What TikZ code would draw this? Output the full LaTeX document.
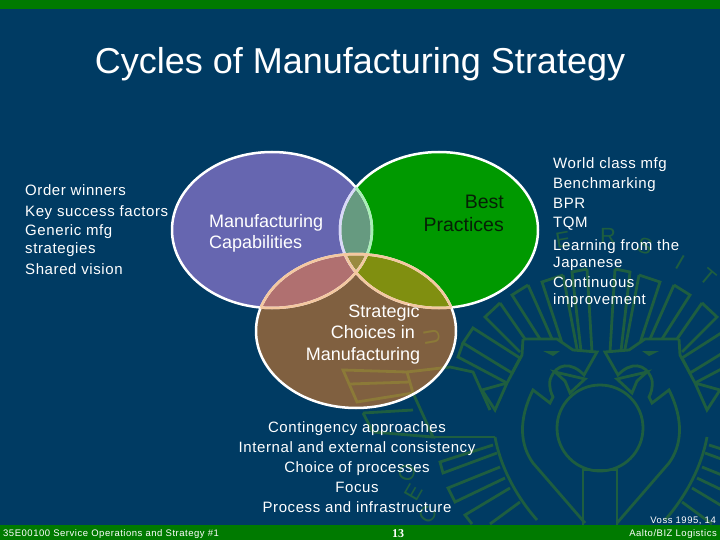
\documentclass[tikz,border=0pt]{standalone}
\usepackage{fontspec}
\setmainfont{Liberation Sans}
\newfontfamily\spaced{Liberation Sans}[LetterSpace=4]
\newfontfamily\spacedb{Liberation Sans}[LetterSpace=5.5]
\newfontfamily\serifb{Liberation Serif}
\definecolor{bgc}{HTML}{003B63}
\definecolor{barc}{HTML}{007A00}
\definecolor{wmc}{HTML}{1E5E40}
\definecolor{wmy}{HTML}{8C7A38}
\definecolor{purp}{HTML}{6666B0}
\definecolor{gree}{HTML}{009900}
\definecolor{brow}{HTML}{806040}
\definecolor{pg}{HTML}{669A80}
\definecolor{pb}{HTML}{B07070}
\definecolor{gb}{HTML}{808F10}
\definecolor{pgb}{HTML}{9A8A40}
\definecolor{lav}{HTML}{D8D8F8}
\definecolor{peach}{HTML}{F4C8A0}
\definecolor{darktx}{HTML}{062006}
\def\EP{(272,230) ellipse [x radius=100pt,y radius=78pt]}
\def\EG{(439,230) ellipse [x radius=99pt,y radius=78pt]}
\def\EB{(356,331) ellipse [x radius=100pt,y radius=77pt]}
\newcommand{\halfmark}{%
  % head and body
  \draw (523,339) -- (557,339) -- (573,350) -- (597,352) -- (584,375)
    .. controls (572,362) and (556,362) .. (550,380)
    .. controls (549,388) and (551,393) .. (553,397)
    -- (550,403) -- (533,390)
    .. controls (518,420) and (520,445) .. (533,463)
    -- (585,523);
  \draw (555,372) -- (585,379) -- (570,393) -- (565,381) -- cycle;
  \fill (543,351) -- (560,351) -- (553,356) -- cycle;
  \draw (523,339) -- (522,355) -- (507,383) -- (495,410) -- (482,390) -- (507,383);
  % upper rays
  \draw (473,328) -- (463,343) -- (512,373) -- (520,358) -- cycle;
  \draw (463,343) -- (458,357) -- (507,383);
  \draw (500,303) -- (485,317) -- (520,352) (500,303) -- (525,339);
  \draw (528,285) -- (512,295) -- (540,339) (528,285) -- (552,339);
  \draw (563,275) -- (542,282) -- (562,343) (563,275) -- (577,349);
  \draw (587,269) -- (572,272) -- (581,351) (587,269) -- (592,352);
  % lower rays
  \draw (495,437) .. controls (500,465) and (515,495) .. (537,520);
  \draw (493,445) -- (440,462) -- (443,473) -- (497,453);
  \draw (500,467) -- (448,488) -- (455,502) -- (505,478);
  \draw (510,488) -- (465,515) -- (472,524);
  \draw (520,502) -- (490,524);
}
\tikzset{
  wmline/.style={line width=2.8pt,line join=miter},
  wmletter/.style={font=\fontsize{22}{22}\selectfont,text=#1,inner sep=0pt},
  lab/.style={text=white,font=\spaced\fontsize{#1}{#1}\selectfont,inner sep=0pt,anchor=base west},
  labc/.style={text=white,font=\spaced\fontsize{#1}{#1}\selectfont,inner sep=0pt,anchor=base},
  big/.style={text=white,font=\fontsize{#1}{#1}\selectfont,inner sep=0pt,anchor=base},
  foot/.style={text=white,font=\spacedb\fontsize{9.5}{9.5}\selectfont,inner sep=0pt,anchor=base #1},
  ringline/.style={draw=white,line width=2.5pt}
}
\newcommand{\wholemark}[1]{%
  \begin{scope}[wmline,draw=#1,fill=#1]
    \halfmark
    \begin{scope}[xshift=1202pt,xscale=-1] \halfmark \end{scope}
    \draw (600,428) circle [radius=43pt];
    \draw (583,525) -- (583,470) -- (617,470) -- (617,525);
    % left wing
    \draw (343,370) -- (357,402) -- (413,393) -- (407,372) -- cycle;
    \draw (350,384) -- (410,382);
    \draw (407,372) -- (450,367) -- (473,372) -- (490,410);
    \draw (363,413) -- (373,432) -- (433,437) -- (413,393);
    \draw (363,413) -- (413,410);
    \draw (433,437) -- (495,437);
  \end{scope}
}
\begin{document}
\begin{tikzpicture}[x=1pt,y=-1pt]
\useasboundingbox (0,0) rectangle (720,540);
\fill[bgc] (0,0) rectangle (720,540);
\fill[barc] (0,0) rectangle (720,9);
\wholemark{wmc}
% watermark letters
\node[wmletter=wmc,rotate=10] (lE) at (563,240) {E};
\node[wmletter=wmc] (lR) at (608,236) {R};
\node[wmletter=wmc,rotate=-15] (lS) at (645,246) {S};
\node[wmletter=wmc,rotate=-30] (lI) at (680,262) {I};
\node[wmletter=wmc,rotate=-40] (lT) at (708,277) {T};
\node[wmletter=wmc,rotate=70] (lO) at (407,473) {O};
\node[wmletter=wmc,rotate=60] (lE2) at (414,492) {E};
\node[wmletter=wmc,rotate=50] (lC) at (428,515) {C};
\fill[barc] (0,524.5) rectangle (720,540);
% ellipse fills
\fill[purp] \EP;
\fill[gree] \EG;
\fill[brow] \EB;
\begin{scope}
  \clip \EB;
  \wholemark{wmy}
  \node[wmletter=wmy,rotate=100] (lU) at (432,337) {U};
\end{scope}
\begin{scope}\clip \EP; \fill[pg] \EG; \fill[pb] \EB; \end{scope}
\begin{scope}\clip \EG; \fill[gb] \EB; \end{scope}
\begin{scope}\clip \EP; \clip \EG; \fill[pgb] \EB; \end{scope}
% outlines
\draw[ringline] \EP;
\draw[ringline] \EG;
\draw[ringline] \EB;
\begin{scope}\clip \EP; \draw[line width=2.5pt,lav] \EG; \draw[line width=2.5pt,peach] \EB; \end{scope}
\begin{scope}\clip \EG; \draw[line width=2.5pt,lav!60!green!70!white] \EP; \draw[line width=2.5pt,peach] \EB; \end{scope}
\begin{scope}\clip \EB; \draw[line width=2.5pt,peach] \EP; \draw[line width=2.5pt,peach] \EG; \end{scope}
% title
\node[big=36] (title) at (360,74) {Cycles of Manufacturing Strategy};
% left list
\node[lab=15] (a1) at (25,196) {Order winners};
\node[lab=15] (a2) at (25,216) {Key success factors};
\node[lab=15] (a3) at (25,236) {Generic mfg};
\node[lab=15] (a4) at (25,254) {strategies};
\node[lab=15] (a5) at (25,274) {Shared vision};
% ellipse labels
\node[big=18,anchor=base west] (m1) at (209,227) {Manufacturing};
\node[big=18,anchor=base west] (m2) at (209,248) {Capabilities};
\node[big=19.5,text=darktx,anchor=base east] (b1) at (504,208) {Best};
\node[big=19.5,text=darktx,anchor=base east] (b2) at (504,232) {Practices};
\node[big=18] (s1) at (384,317) {Strategic};
\node[big=18] (s2) at (373,338) {Choices in};
\node[big=18] (s3) at (363,360) {Manufacturing};
% right list
\node[lab=15] (r1) at (553,169) {World class mfg};
\node[lab=15] (r2) at (553,189) {Benchmarking};
\node[lab=15] (r3) at (553,208) {BPR};
\node[lab=15] (r4) at (553,228) {TQM};
\node[lab=15] (r5) at (553,250) {Learning from the};
\node[lab=15] (r6) at (553,267) {Japanese};
\node[lab=15] (r7) at (553,287) {Continuous};
\node[lab=15] (r8) at (553,304) {improvement};
% bottom list
\node[labc=15] (c1) at (357,432) {Contingency approaches};
\node[labc=15] (c2) at (357,452) {Internal and external consistency};
\node[labc=15] (c3) at (357,472) {Choice of processes};
\node[labc=15] (c4) at (357,492) {Focus};
\node[labc=15] (c5) at (357,512) {Process and infrastructure};
% footer
\node[foot=west] (f1) at (3,536) {35E00100 Service Operations and Strategy \#1};
\node[text=white,inner sep=0pt,anchor=base,font=\serifb\bfseries\fontsize{12}{12}\selectfont] (f2) at (398,537) {13};
\node[foot=east] (f3) at (716,523) {Voss 1995, 14};
\node[foot=east] (f4) at (717,536) {Aalto/BIZ Logistics};
\end{tikzpicture}
\end{document}
